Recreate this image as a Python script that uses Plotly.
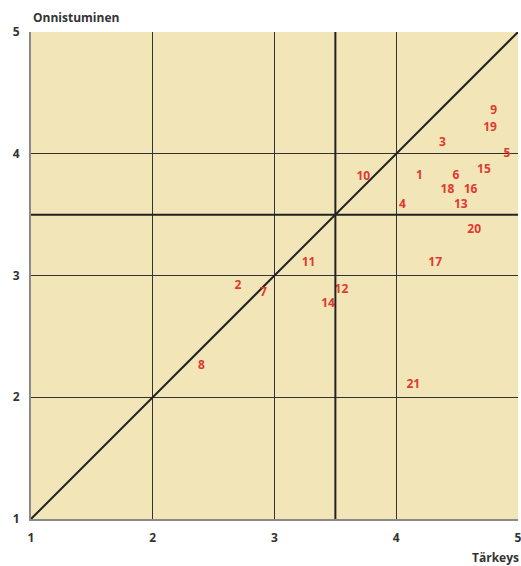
import plotly.graph_objects as go

labels = ["1","2","3","4","5","6","7","8","9","10","11","12","13","14","15","16","17","18","19","20","21"]
tarkeys = [4.19, 2.70, 4.38, 4.05, 4.91, 4.49, 2.91, 2.40, 4.80, 3.73, 3.28, 3.55, 4.53, 3.44, 4.72, 4.61, 4.32, 4.42, 4.77, 4.64, 4.14]
onnistuminen = [3.82, 2.91, 4.09, 3.58, 4.00, 3.82, 2.86, 2.26, 4.35, 3.81, 3.10, 2.88, 3.58, 2.77, 3.87, 3.70, 3.10, 3.70, 4.21, 3.37, 2.10]

ticks = [1, 2, 3, 4, 5]
mean_line = 3.5
diag = [1, 5]

fig = go.Figure()
fig.add_trace(go.Scatter(x=diag, y=diag, mode="lines",
                         line=dict(color="#222222", width=2), hoverinfo="skip", showlegend=False))
fig.add_trace(go.Scatter(x=tarkeys, y=onnistuminen, text=labels, mode="text",
                         textfont=dict(family="Open Sans", size=12, color="#e0392f", weight=700),
                         showlegend=False))

fig.add_shape(type="line", xref="x", yref="y", x0=mean_line, x1=mean_line, y0=1, y1=5,
              line=dict(color="#222222", width=2), layer="above")
fig.add_shape(type="line", xref="x", yref="y", x0=1, x1=5, y0=mean_line, y1=mean_line,
              line=dict(color="#222222", width=2), layer="above")

axis_common = dict(range=[1, 5], tickvals=ticks, ticktext=[str(t) for t in ticks],
                   showgrid=True, gridcolor="#333333", gridwidth=1,
                   zeroline=False, showline=True, linecolor="#8a8a8a", linewidth=2,
                   tickfont=dict(family="Open Sans", size=12, color="#333333", weight=700),
                   ticklabelstandoff=7, ticklabeloverflow="allow", automargin=False)
fig.update_xaxes(**axis_common)
fig.update_yaxes(**axis_common)

fig.add_annotation(text="Onnistuminen", xref="paper", yref="paper", x=0, y=1,
                   xanchor="left", yanchor="bottom", yshift=4, showarrow=False,
                   font=dict(family="Open Sans", size=12, color="#333333", weight=700))
fig.add_annotation(text="Tärkeys", xref="paper", yref="paper", x=1, y=0,
                   xanchor="right", yanchor="top", yshift=-28, xshift=3, showarrow=False,
                   font=dict(family="Open Sans", size=12, color="#333333", weight=700))

fig.update_layout(width=521, height=566, margin=dict(l=31, r=3, t=32, b=47, autoexpand=False),
                  plot_bgcolor="#f2e6b9", paper_bgcolor="white")
fig.write_html("out.html", config={"displayModeBar": False},
               post_script="document.body.style.margin='0';document.body.style.overflow='hidden';")
